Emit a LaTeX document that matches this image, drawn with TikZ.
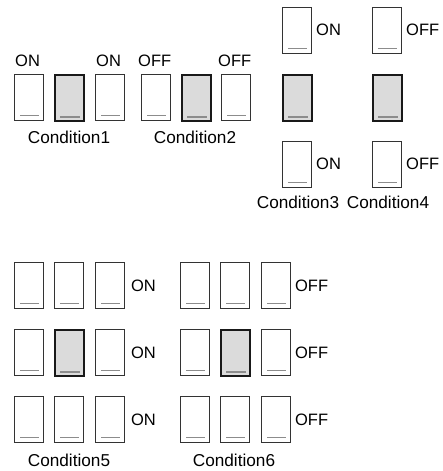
\documentclass[tikz,border=0pt]{standalone}
\usepackage{fontspec}
\setmainfont{Liberation Sans}
\newcommand\swbox[4]{%
  \node[#4] (#1) at (#2,#3) {};
  \draw[knob] ([xshift=6pt,yshift=5pt]#1.south west) -- ([xshift=-5pt,yshift=5pt]#1.south east);}
\begin{document}
\begin{tikzpicture}[x=1pt,y=-1pt,
  sw/.style={draw=black!80, line width=0.9pt, fill=white, minimum width=29pt, minimum height=46pt, inner sep=0pt, anchor=north west},
  swon/.style={sw, draw=black!90, line width=2pt, fill=gray!28},
  knob/.style={draw=gray!90, line width=1.1pt},
  lbl/.style={font=\fontsize{16.5}{18}\selectfont, inner sep=0pt, anchor=west},
  condlbl/.style={font=\fontsize{17.2}{19}\selectfont, inner sep=0pt},
]
\useasboundingbox (0,0) rectangle (442,471);

% Condition 1 and 2
\swbox{a1}{14}{74}{sw}
\swbox{a2}{54}{74}{swon}
\swbox{a3}{95}{74}{sw}
\swbox{a4}{141}{74}{sw}
\swbox{a5}{181}{74}{swon}
\swbox{a6}{221}{74}{sw}
\node[lbl] (t1) at (15,61) {ON};
\node[lbl] (t3) at (96,61) {ON};
\node[lbl] (t4) at (138,61) {OFF};
\node[lbl] (t6) at (218,61) {OFF};
\node[condlbl] (c1) at (69,137.5) {Condition1};
\node[condlbl] (c2) at (195,137.5) {Condition2};

% Condition 3 and 4
\swbox{b1}{282}{7}{sw}
\swbox{b2}{282}{74}{swon}
\swbox{b3}{282}{141}{sw}
\swbox{d1}{372}{7}{sw}
\swbox{d2}{372}{74}{swon}
\swbox{d3}{372}{141}{sw}
\node[lbl] (tb1) at (316,30) {ON};
\node[lbl] (tb3) at (316,164) {ON};
\node[lbl] (td1) at (406,30) {OFF};
\node[lbl] (td3) at (406,164) {OFF};
\node[condlbl] (c3) at (298,202) {Condition3};
\node[condlbl] (c4) at (388,202) {Condition4};

% Condition 5 and 6
\foreach \r/\y in {1/262, 2/329, 3/396}{
  \swbox{e\r1}{14}{\y}{sw}
  \ifnum\r=2 \swbox{e\r2}{54}{\y}{swon}\else \swbox{e\r2}{54}{\y}{sw}\fi
  \swbox{e\r3}{95}{\y}{sw}
  \swbox{f\r1}{180}{\y}{sw}
  \ifnum\r=2 \swbox{f\r2}{220}{\y}{swon}\else \swbox{f\r2}{220}{\y}{sw}\fi
  \swbox{f\r3}{261}{\y}{sw}
  \node[lbl] (te\r) at ([xshift=6pt]e\r3.east) {ON};
  \node[lbl] (tf\r) at ([xshift=4pt]f\r3.east) {OFF};
}
\node[condlbl] (c5) at (69,460) {Condition5};
\node[condlbl] (c6) at (234,460) {Condition6};
\end{tikzpicture}
\end{document}
